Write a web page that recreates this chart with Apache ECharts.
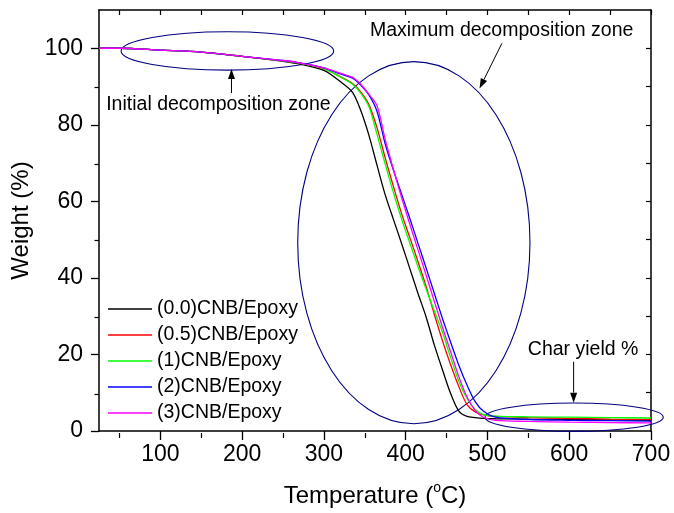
<!DOCTYPE html>
<html>
<head>
<meta charset="utf-8">
<script src="https://cdn.jsdelivr.net/npm/echarts@6/dist/echarts.min.js"></script>
<style>
  html, body { margin: 0; padding: 0; background: #fff; }
  #main { width: 674px; height: 513px; }
</style>
</head>
<body>
<div id="main"></div>
<script>
// temperature grid (°C) shared by all curves
var temp = [25, 50, 100, 150, 200, 250, 270, 300, 320, 335, 345, 355, 365, 375, 385, 395, 405, 415, 425, 435, 445, 455, 465, 475, 485, 495, 510, 550, 600, 650, 700];

// weight (%)
var w00 = [100, 100, 99.5, 99.0, 97.9, 96.6, 95.9, 94.2, 91.3, 88.5, 83.8, 77.3, 69.4, 61.7, 55.3, 49.0, 42.5, 36.0, 29.8, 22.5, 16.0, 9.8, 5.2, 3.8, 3.5, 3.3, 3.2, 3.1, 3.0, 2.9, 2.8];
var w05 = [100, 100, 99.5, 99.0, 97.9, 96.7, 96.1, 94.7, 92.6, 90.8, 88.6, 85.3, 79.2, 71.3, 63.9, 56.8, 50.6, 44.3, 37.8, 30.5, 23.6, 17.3, 11.6, 6.9, 5.0, 4.2, 3.8, 3.5, 3.3, 3.1, 3.0];
var w1 = [100, 100, 99.5, 99.0, 97.9, 96.7, 96.1, 94.7, 92.5, 90.6, 88.3, 84.8, 77.5, 69.7, 62.3, 55.4, 49.2, 43.0, 37.1, 31.4, 25.8, 19.2, 13.0, 8.5, 5.6, 4.3, 3.9, 3.7, 3.6, 3.5, 3.4];
var w2 = [100, 100, 99.5, 99.0, 97.9, 96.8, 96.2, 94.9, 93.3, 92.2, 90.4, 87.8, 83.5, 75.0, 68.2, 61.9, 55.6, 49.1, 42.6, 36.0, 29.4, 23.2, 17.2, 12.0, 7.7, 5.2, 3.6, 3.0, 2.8, 2.7, 2.6];
var w3 = [100, 100, 99.5, 99.0, 97.9, 96.8, 96.2, 94.9, 93.5, 92.4, 90.6, 88.0, 85.0, 76.1, 68.4, 61.0, 54.1, 47.4, 40.7, 33.9, 27.1, 20.7, 14.2, 8.9, 5.4, 3.6, 2.8, 2.5, 2.3, 2.2, 2.1];

var names = ['(0.0)CNB/Epoxy', '(0.5)CNB/Epoxy', '(1)CNB/Epoxy', '(2)CNB/Epoxy', '(3)CNB/Epoxy'];
var colors = ['#000000', '#ff0000', '#00ff00', '#0000ff', '#ff00ff'];
var weights = [w00, w05, w1, w2, w3];

// tick values
var xMajor = [100, 200, 300, 400, 500, 600, 700];
var xMinor = [50, 150, 250, 350, 450, 550, 650];
var xTop = [50, 100, 150, 200, 250, 300, 350, 400, 450, 500, 550, 600, 650, 700];
var yMajor = [0, 20, 40, 60, 80, 100];
var yMinor = [10, 30, 50, 70, 90];
var yRight = [10, 20, 30, 40, 50, 60, 70, 80, 90, 100];

// annotations, in data units: [cx, cy, rx, ry]
var zones = [[182, 99.3, 130, 5], [410, 49.2, 142, 47.3], [606, 3.6, 109, 3.7]];
// arrows: [x1, y1, x2, y2]
var arrows = [[187, 88.3, 187, 94.6], [517.7, 101.3, 490.3, 89.5], [605.4, 18.1, 605.4, 7.4]];
var noteText = ['Initial decomposition zone', 'Maximum decomposition zone', 'Char yield %'];
var notePos = [[171, 85.4], [517.4, 104.5], [617, 21.3]];

var FONT = 'Liberation Sans, Arial, sans-serif';
var myChart = echarts.init(document.getElementById('main'));

var lineSeries = names.map(function (n, i) {
    return {
        name: n,
        type: 'line',
        xAxisIndex: 0,
        yAxisIndex: 0,
        data: temp.map(function (t, k) { return [t, weights[i][k]]; }),
        showSymbol: false,
        symbol: 'none',
        smooth: 0.3,
        color: colors[i],
        lineStyle: { width: 1.3, color: colors[i] }
    };
});

var option = {
    animation: false,
    textStyle: { fontFamily: FONT },
    grid: [
        { left: 99, right: 23, top: 10, bottom: 80 },
        { left: 99, right: 23, top: 10, bottom: 80 }
    ],
    legend: {
        orient: 'vertical',
        left: 103,
        top: 294,
        icon: 'rect',
        itemWidth: 44,
        itemHeight: 1.5,
        itemGap: 6,
        selectedMode: false,
        data: names,
        textStyle: { fontSize: 19.5, color: '#000', fontFamily: FONT }
    },
    xAxis: [{
        type: 'value', gridIndex: 0, position: 'bottom', min: 25, max: 700,
        name: 'Temperature ({sup|o}C)',
        nameLocation: 'middle',
        nameGap: 50,
        nameTextStyle: {
            fontSize: 24, color: '#000', fontFamily: FONT,
            rich: { sup: { fontSize: 14, color: '#000', fontFamily: FONT, verticalAlign: 'top', padding: [0, 0, 16, 0] } }
        },
        axisLine: { onZero: false, lineStyle: { color: '#000', width: 1.5 } },
        axisTick: { customValues: xMajor, length: 9, lineStyle: { color: '#000', width: 1.3 } },
        axisLabel: { customValues: xMajor, fontSize: 23, color: '#000', margin: 12, fontFamily: FONT },
        splitLine: { show: false }
    }, {
        type: 'value', gridIndex: 0, position: 'top', min: 25, max: 700,
        axisLine: { onZero: false, lineStyle: { color: '#000', width: 1.5 } },
        axisTick: { customValues: xTop, inside: true, length: 5, lineStyle: { color: '#000', width: 1.2 } },
        axisLabel: { show: false },
        splitLine: { show: false }
    }, {
        type: 'value', gridIndex: 1, position: 'bottom', min: 25, max: 700,
        axisLine: { show: false },
        axisTick: { customValues: xMinor, length: 5, lineStyle: { color: '#000', width: 1.2 } },
        axisLabel: { show: false },
        splitLine: { show: false }
    }],
    yAxis: [{
        type: 'value', gridIndex: 0, position: 'left', min: 0, max: 110,
        name: 'Weight (%)',
        nameLocation: 'middle',
        nameGap: 62,
        nameTextStyle: { fontSize: 24, color: '#000', fontFamily: FONT },
        axisLine: { onZero: false, lineStyle: { color: '#000', width: 1.5 } },
        axisTick: { customValues: yMajor, length: 8, lineStyle: { color: '#000', width: 1.3 } },
        axisLabel: { customValues: yMajor, fontSize: 23, color: '#000', margin: 16, fontFamily: FONT },
        splitLine: { show: false }
    }, {
        type: 'value', gridIndex: 0, position: 'right', min: 0, max: 110,
        axisLine: { onZero: false, lineStyle: { color: '#000', width: 1.5 } },
        axisTick: { customValues: yRight, inside: true, length: 5, lineStyle: { color: '#000', width: 1.2 } },
        axisLabel: { show: false },
        splitLine: { show: false }
    }, {
        type: 'value', gridIndex: 1, position: 'left', min: 0, max: 110,
        axisLine: { show: false },
        axisTick: { customValues: yMinor, length: 4.5, lineStyle: { color: '#000', width: 1.2 } },
        axisLabel: { show: false },
        splitLine: { show: false }
    }],
    series: lineSeries.concat([{
        name: 'zones',
        type: 'custom',
        xAxisIndex: 0,
        yAxisIndex: 0,
        clip: false,
        silent: true,
        data: zones,
        renderItem: function (params, api) {
            var c = api.coord([api.value(0), api.value(1)]);
            var r = api.size([api.value(2), api.value(3)]);
            return {
                type: 'ellipse',
                shape: { cx: c[0], cy: c[1], rx: r[0], ry: r[1] },
                style: { fill: 'none', stroke: '#000080', lineWidth: 1.1 }
            };
        }
    }, {
        name: 'arrows',
        type: 'custom',
        xAxisIndex: 0,
        yAxisIndex: 0,
        clip: false,
        silent: true,
        data: arrows,
        renderItem: function (params, api) {
            var p1 = api.coord([api.value(0), api.value(1)]);
            var p2 = api.coord([api.value(2), api.value(3)]);
            var dx = p2[0] - p1[0], dy = p2[1] - p1[1];
            var len = Math.sqrt(dx * dx + dy * dy);
            var ux = dx / len, uy = dy / len;
            var hl = 10, hw = 3.5;
            var bx = p2[0] - ux * hl, by = p2[1] - uy * hl;
            return {
                type: 'group',
                children: [{
                    type: 'line',
                    shape: { x1: p1[0], y1: p1[1], x2: bx, y2: by },
                    style: { stroke: '#000', lineWidth: 1 }
                }, {
                    type: 'polygon',
                    shape: { points: [p2, [bx - uy * hw, by + ux * hw], [bx + uy * hw, by - ux * hw]] },
                    style: { fill: '#000' }
                }]
            };
        }
    }, {
        name: 'notes',
        type: 'custom',
        xAxisIndex: 0,
        yAxisIndex: 0,
        clip: false,
        silent: true,
        data: notePos,
        renderItem: function (params, api) {
            var c = api.coord([api.value(0), api.value(1)]);
            return {
                type: 'text',
                x: c[0],
                y: c[1],
                style: {
                    text: noteText[params.dataIndex],
                    fontSize: 19.5,
                    fontFamily: FONT,
                    fill: '#000',
                    align: 'center',
                    verticalAlign: 'middle'
                }
            };
        }
    }])
};

myChart.setOption(option);
</script>
</body>
</html>
